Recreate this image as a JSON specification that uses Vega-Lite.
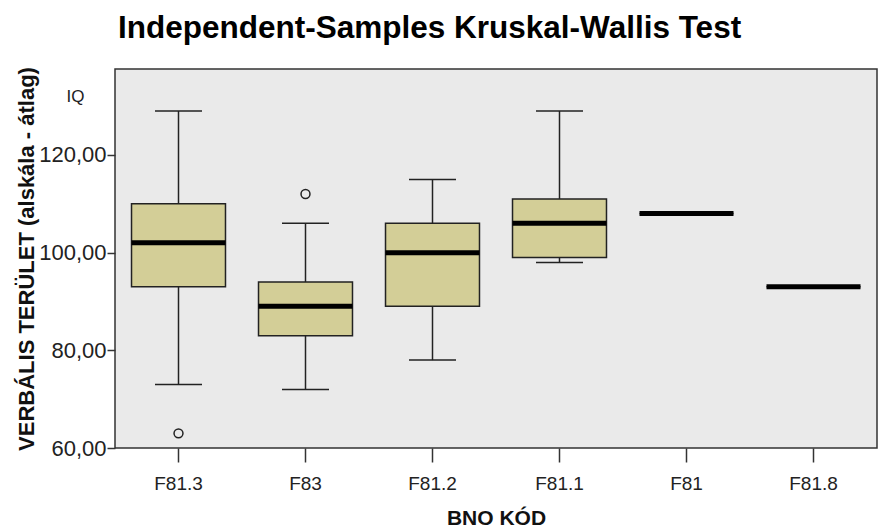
{
  "$schema": "https://vega.github.io/schema/vega-lite/v6.json",
  "width": 762,
  "height": 379,
  "autosize": {"type": "none"},
  "padding": {"left": 115, "top": 69, "right": 2, "bottom": 79},
  "background": "white",
  "datasets": {
    "stats": [
      {"code": "F81.3", "lo": 73, "q1": 93, "med": 102, "q3": 110, "hi": 129},
      {"code": "F83", "lo": 72, "q1": 83, "med": 89, "q3": 94, "hi": 106},
      {"code": "F81.2", "lo": 78, "q1": 89, "med": 100, "q3": 106, "hi": 115},
      {"code": "F81.1", "lo": 98, "q1": 99, "med": 106, "q3": 111, "hi": 129},
      {"code": "F81", "lo": 108, "q1": 108, "med": 108, "q3": 108, "hi": 108},
      {"code": "F81.8", "lo": 93, "q1": 93, "med": 93, "q3": 93, "hi": 93}
    ],
    "outliers": [
      {"code": "F81.3", "v": 63},
      {"code": "F83", "v": 112}
    ]
  },
  "title": {
    "text": "Independent-Samples Kruskal-Wallis Test",
    "anchor": "start",
    "frame": "group",
    "dx": 3,
    "dy": 29,
    "fontSize": 31.5,
    "font": "Liberation Sans",
    "fontWeight": "bold",
    "color": "#000000",
    "baseline": "alphabetic",
    "offset": 26
  },
  "config": {
    "view": {"fill": "#EAEAEA", "stroke": "#333333", "strokeWidth": 1.5},
    "font": "Liberation Sans",
    "axis": {
      "domain": false,
      "grid": false,
      "tickColor": "#333333",
      "tickWidth": 1.5,
      "labelFont": "Liberation Sans",
      "labelFontSize": 19,
      "labelColor": "#222222",
      "titleFont": "Liberation Sans",
      "titleFontSize": 21,
      "titleFontWeight": "bold",
      "titleColor": "#111111"
    }
  },
  "encoding": {
    "x": {
      "field": "code",
      "type": "nominal",
      "sort": ["F81.3", "F83", "F81.2", "F81.1", "F81", "F81.8"],
      "scale": {"paddingInner": 0, "paddingOuter": 0},
      "title": "BNO KÓD",
      "axis": {
        "labelAngle": 0,
        "tickSize": 14,
        "labelPadding": 12,
        "titleBaseline": "alphabetic",
        "titleY": 76
      }
    }
  },
  "layer": [
    {
      "data": {"name": "stats"},
      "layer": [
        {
          "mark": {"type": "rule", "color": "#222222", "strokeWidth": 1.5},
          "encoding": {
            "y": {"field": "lo", "type": "quantitative", "title": "VERBÁLIS TERÜLET (alskála - átlag)", "scale": {"domain": [60, 137.6], "nice": false, "zero": false},
              "axis": {"values": [60, 80, 100, 120], "labelExpr": "replace(format(datum.value, '.2f'), '.', ',')", "labelFontSize": 22, "tickSize": 8, "labelPadding": 1, "titleFontSize": 22, "titleX": -82, "titleBaseline": "alphabetic"}},
            "y2": {"field": "q1"}
          }
        },
        {
          "mark": {"type": "rule", "color": "#222222", "strokeWidth": 1.5},
          "encoding": {
            "y": {"field": "q3", "type": "quantitative", "title": "VERBÁLIS TERÜLET (alskála - átlag)", "scale": {"domain": [60, 137.6], "nice": false, "zero": false}},
            "y2": {"field": "hi"}
          }
        },
        {
          "mark": {"type": "tick", "color": "#222222", "opacity": 1, "thickness": 1.5, "size": 47},
          "encoding": {
            "y": {"field": "lo", "type": "quantitative", "title": "VERBÁLIS TERÜLET (alskála - átlag)", "scale": {"domain": [60, 137.6], "nice": false, "zero": false}}
          }
        },
        {
          "mark": {"type": "tick", "color": "#222222", "opacity": 1, "thickness": 1.5, "size": 47},
          "encoding": {
            "y": {"field": "hi", "type": "quantitative", "title": "VERBÁLIS TERÜLET (alskála - átlag)", "scale": {"domain": [60, 137.6], "nice": false, "zero": false}}
          }
        },
        {
          "mark": {"type": "bar", "fill": "#D3CE97", "stroke": "#222222", "strokeWidth": 1.5, "width": {"band": 0.74}},
          "encoding": {
            "y": {"field": "q1", "type": "quantitative", "title": "VERBÁLIS TERÜLET (alskála - átlag)", "scale": {"domain": [60, 137.6], "nice": false, "zero": false}},
            "y2": {"field": "q3"}
          }
        },
        {
          "mark": {"type": "tick", "color": "#000000", "opacity": 1, "thickness": 5, "size": 94},
          "encoding": {
            "y": {"field": "med", "type": "quantitative", "title": "VERBÁLIS TERÜLET (alskála - átlag)", "scale": {"domain": [60, 137.6], "nice": false, "zero": false}}
          }
        }
      ]
    },
    {
      "data": {"name": "outliers"},
      "mark": {"type": "point", "shape": "circle", "filled": false, "opacity": 1, "size": 80, "stroke": "#222222", "strokeWidth": 1.5},
      "encoding": {
        "y": {
          "field": "v",
          "type": "quantitative",
          "title": "IQ",
          "scale": {"domain": [60, 137.6], "nice": false, "zero": false},
          "axis": {"orient": "left", "labels": false, "ticks": false, "domain": false, "titleAngle": 0, "titleX": -40, "titleY": 27, "titleAlign": "center", "titleBaseline": "middle", "titleFontWeight": "normal", "titleFontSize": 17, "titleColor": "#222222"}
        }
      }
    }
  ],
  "resolve": {"scale": {"y": "independent"}}
}
